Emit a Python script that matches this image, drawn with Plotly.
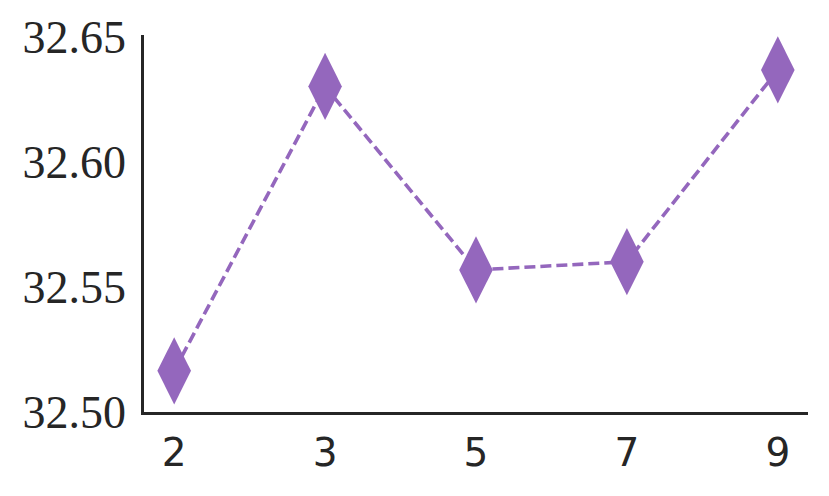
import plotly.graph_objects as go

# --- DATA ---
categories = ["2", "3", "5", "7", "9"]
values = [32.5163, 32.6302, 32.5567, 32.5600, 32.6368]
y_ticks = [32.50, 32.55, 32.60, 32.65]
y_tick_labels = ["32.50", "32.55", "32.60", "32.65"]

purple = "#9467bd"
axis_color = "#262626"

fig = go.Figure()

fig.add_trace(go.Scatter(
    x=categories,
    y=values,
    mode="lines+markers",
    line=dict(color=purple, width=3.6, dash="11px,5px"),
    marker=dict(symbol="diamond-tall", size=48, color=purple, line=dict(width=0)),
    hoverinfo="skip",
))

# --- LAYOUT ---
fig.update_layout(
    width=829,
    height=496,
    showlegend=False,
    plot_bgcolor="white",
    paper_bgcolor="white",
    margin=dict(l=144, r=21, t=35, b=84),
    xaxis=dict(
        type="category",
        range=[-0.2, 4.2],
        showgrid=False,
        zeroline=False,
        showline=True,
        linecolor=axis_color,
        linewidth=2.5,
        ticks="outside",
        ticklen=4,
        tickcolor="rgba(0,0,0,0)",
        tickfont=dict(family="DejaVu Sans", size=39, color=axis_color),
    ),
    yaxis=dict(
        range=[32.4998, 32.6508],
        tickvals=y_ticks,
        ticktext=y_tick_labels,
        showgrid=False,
        zeroline=False,
        showline=True,
        linecolor=axis_color,
        linewidth=2.5,
        ticks="outside",
        ticklen=6,
        tickcolor="rgba(0,0,0,0)",
        tickfont=dict(family="Liberation Serif", size=46, color=axis_color),
    ),
)

# page body margin would push the 829x496 figure off the window
fig.write_html(
    "out.html",
    config={"displayModeBar": False},
    post_script="document.body.style.margin='0';",
)
